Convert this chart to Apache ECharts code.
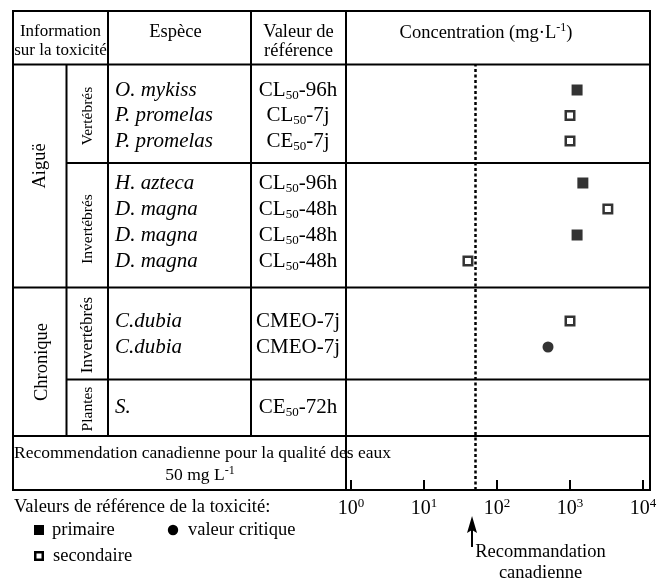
<!DOCTYPE html>
<html>
<head>
<meta charset="utf-8">
<script src="https://cdn.jsdelivr.net/npm/echarts@6/dist/echarts.min.js"></script>
<style>html,body{margin:0;padding:0;background:#fff}#c{width:657px;height:580px}</style>
</head>
<body>
<div id="c"></div>
<script>
// ---- data ----
const species = ['O. mykiss', 'P. promelas', 'P. promelas', 'H. azteca', 'D. magna', 'D. magna', 'D. magna', 'C.dubia', 'C.dubia', 'S.'];
const refValues = ['CL50-96h', 'CL50-7j', 'CE50-7j', 'CL50-96h', 'CL50-48h', 'CL50-48h', 'CL50-48h', 'CMEO-7j', 'CMEO-7j', 'CE50-72h'];
const concentrations = [1250, 1000, 1000, 1500, 3300, 1250, 40, 1000, 500, null];
const markerTypes = ['primaire', 'secondaire', 'secondaire', 'primaire', 'secondaire', 'primaire', 'secondaire', 'secondaire', 'valeur critique', null];
const rowGroup = [0, 0, 0, 1, 1, 1, 1, 2, 2, 3];
const typeNames = ['primaire', 'valeur critique', 'secondaire'];
const axisExtent = [1, 10000];
const guideline = 50;

// ---- layout / style ----
const F = 'Liberation Serif';
const GL = 351, GR = 14;
const groupBoxes = [
  { top: 77.25, height: 76.5 },
  { top: 170, height: 104 },
  { top: 308, height: 52 },
  { top: 394, height: 26 }
];
const symbolStyles = {
  'primaire': { symbol: 'rect', symbolSize: 11, itemStyle: { color: '#000' } },
  'secondaire': { symbol: 'rect', symbolSize: 8.5, itemStyle: { color: '#fff', borderColor: '#000', borderWidth: 2.5 } },
  'valeur critique': { symbol: 'circle', symbolSize: 11, itemStyle: { color: '#000' } }
};

function refRich(s) {
  const m = s.match(/^(C[LE])(50)(.*)$/);
  if (m) return '{m|' + m[1] + '}{sub|' + m[2] + '}{m|' + m[3] + '}';
  return '{m|' + s + '}';
}

const grid = [{ left: GL, right: GR, top: 64.5, bottom: 90, containLabel: false, outerBoundsMode: 'none' }];
const xAxis = [{
  type: 'log', logBase: 10, gridIndex: 0, min: axisExtent[0], max: axisExtent[1],
  axisLine: { show: false },
  axisTick: { show: true, inside: true, length: 10, lineStyle: { color: '#000', width: 2 } },
  splitLine: { show: false }, minorTick: { show: false },
  axisLabel: {
    show: true, margin: 7, showMinLabel: true, showMaxLabel: true, hideOverlap: false,
    formatter: v => '{b|10}{s|' + Math.round(Math.log10(v)) + '}',
    rich: {
      b: { fontFamily: F, fontSize: 20, color: '#000', lineHeight: 24 },
      s: { fontFamily: F, fontSize: 13, color: '#000', lineHeight: 13, verticalAlign: 'top' }
    }
  }
}];
const yAxis = [{ type: 'value', gridIndex: 0, min: 0, max: 1, show: false }];
const series = [{
  type: 'scatter', xAxisIndex: 0, yAxisIndex: 0, data: [], silent: true,
  markLine: {
    silent: true, symbol: ['none', 'none'], animation: false,
    label: { show: false },
    lineStyle: { color: '#000', width: 2.5, type: [3, 2.5] },
    data: [{ xAxis: guideline }]
  }
}];

groupBoxes.forEach((b, g) => {
  const gi = g + 1;
  grid.push({ left: GL, right: GR, top: b.top, height: b.height, containLabel: false, outerBoundsMode: 'none' });
  xAxis.push({ type: 'log', logBase: 10, gridIndex: gi, min: axisExtent[0], max: axisExtent[1], show: false });
  const rows = [];
  rowGroup.forEach((gr, i) => { if (gr === g) rows.push(String(i)); });
  const common = {
    type: 'category', gridIndex: gi, data: rows, inverse: true, position: 'left', offset: 0,
    axisLine: { show: false }, axisTick: { show: false }, splitLine: { show: false }
  };
  yAxis.push(Object.assign({}, common, {
    axisLabel: {
      interval: 0, align: 'left', margin: 236, color: '#000',
      fontFamily: F, fontSize: 21, fontStyle: 'italic',
      formatter: v => species[+v]
    }
  }));
  yAxis.push(Object.assign({}, common, {
    axisLabel: {
      interval: 0, align: 'center', margin: 53,
      formatter: v => refRich(refValues[+v]),
      rich: {
        m: { fontFamily: F, fontSize: 21, color: '#000', lineHeight: 24 },
        sub: { fontFamily: F, fontSize: 13, color: '#000', lineHeight: 16, verticalAlign: 'bottom' }
      }
    }
  }));
  typeNames.forEach(t => {
    const data = [];
    rowGroup.forEach((gr, i) => {
      if (gr === g && markerTypes[i] === t && concentrations[i] != null) data.push([concentrations[i], String(i)]);
    });
    series.push(Object.assign({
      type: 'scatter', name: t, xAxisIndex: gi, yAxisIndex: 1 + 2 * (gi - 1), data: data, silent: true
    }, JSON.parse(JSON.stringify(symbolStyles[t]))));
  });
});

// ---- table graphics ----
const L = (x1, y1, x2, y2) => ({ type: 'line', silent: true, z: 50, shape: { x1, y1, x2, y2 }, style: { stroke: '#000', lineWidth: 2 } });
const T = (text, x, y, size, opts) => Object.assign({
  type: 'text', silent: true, x, y, z: 40,
  style: Object.assign({ text, fill: '#000', font: size + 'px "' + F + '"', textAlign: 'center', textVerticalAlign: 'middle' }, (opts && opts.style) || {})
}, (opts && opts.el) || {});
const R = { rotation: Math.PI / 2 };
const supRich = { s: { fontFamily: F, fontSize: 12, lineHeight: 12, verticalAlign: 'top', fill: '#000' }, n: { fontFamily: F, fontSize: 18.5, lineHeight: 22, fill: '#000' } };
const LT = { style: { textAlign: 'left' } };

const graphic = [
  L(13, 11, 650, 11), L(13, 64.5, 650, 64.5), L(66.5, 163, 650, 163), L(13, 287.5, 650, 287.5),
  L(66.5, 379.5, 650, 379.5), L(13, 436, 650, 436), L(12, 490, 651, 490),
  L(13, 10, 13, 491), L(66.5, 64.5, 66.5, 436), L(108, 11, 108, 436), L(251, 11, 251, 436),
  L(346, 11, 346, 490), L(650, 10, 650, 491),
  T('Information', 60.5, 32, 17), T('sur la toxicité', 60.5, 51, 17),
  T('Espèce', 175.5, 32, 18.5),
  T('Valeur de', 298.5, 32, 18.5), T('référence', 298.5, 51, 18.5),
  T('', 486, 33, 18.5, { style: { text: '{n|Concentration (mg·L}{s|-1}{n|)}', rich: supRich } }),
  T('Aiguë', 40, 166, 18.5, { el: R }),
  T('Chronique', 42, 362, 18.5, { el: R }),
  T('Vertébrés', 88, 116, 15.5, { el: R }),
  T('Invertébrés', 88, 229, 15.5, { el: R }),
  T('Invertébrés', 88, 335, 17, { el: R }),
  T('Plantes', 88, 409, 15.5, { el: R }),
  T('Recommendation canadienne pour la qualité des eaux', 14, 453, 17.5, LT),
  T('', 200, 475, 17.5, { style: { text: '{n|50 mg L}{s|-1}', rich: { n: { fontFamily: F, fontSize: 17.5, lineHeight: 21, fill: '#000' }, s: supRich.s } } }),
  T('Valeurs de référence de la toxicité:', 14, 507, 18.5, LT),
  T('Recommandation', 540.5, 552, 18.5), T('canadienne', 540.5, 573, 18.5),
  // key
  { type: 'rect', silent: true, shape: { x: 34, y: 525, width: 10, height: 10 }, style: { fill: '#000' } },
  T(typeNames[0], 52, 530, 18.5, LT),
  { type: 'circle', silent: true, shape: { cx: 173, cy: 530, r: 5.2 }, style: { fill: '#000' } },
  T(typeNames[1], 188, 530, 18.5, LT),
  { type: 'rect', silent: true, shape: { x: 35.25, y: 552.25, width: 7.5, height: 7.5 }, style: { fill: '#fff', stroke: '#000', lineWidth: 2.5 } },
  T(typeNames[2], 53, 556, 18.5, LT)
];

const chart = echarts.init(document.getElementById('c'), null, { renderer: 'canvas' });
chart.setOption({
  animation: false, backgroundColor: '#fff',
  textStyle: { fontFamily: F, color: '#000' },
  grid, xAxis, yAxis, series, graphic
});

// arrow pointing to the guideline on the axis
const ax = chart.convertToPixel({ xAxisIndex: 0 }, guideline) - 3;
chart.setOption({ graphic: graphic.concat([
  { type: 'line', silent: true, shape: { x1: ax, y1: 528, x2: ax, y2: 547 }, style: { stroke: '#000', lineWidth: 2 } },
  { type: 'polygon', silent: true, shape: { points: [[ax, 516], [ax - 5, 533], [ax, 530], [ax + 5, 533]] }, style: { fill: '#000' } }
]) });
</script>
</body>
</html>
